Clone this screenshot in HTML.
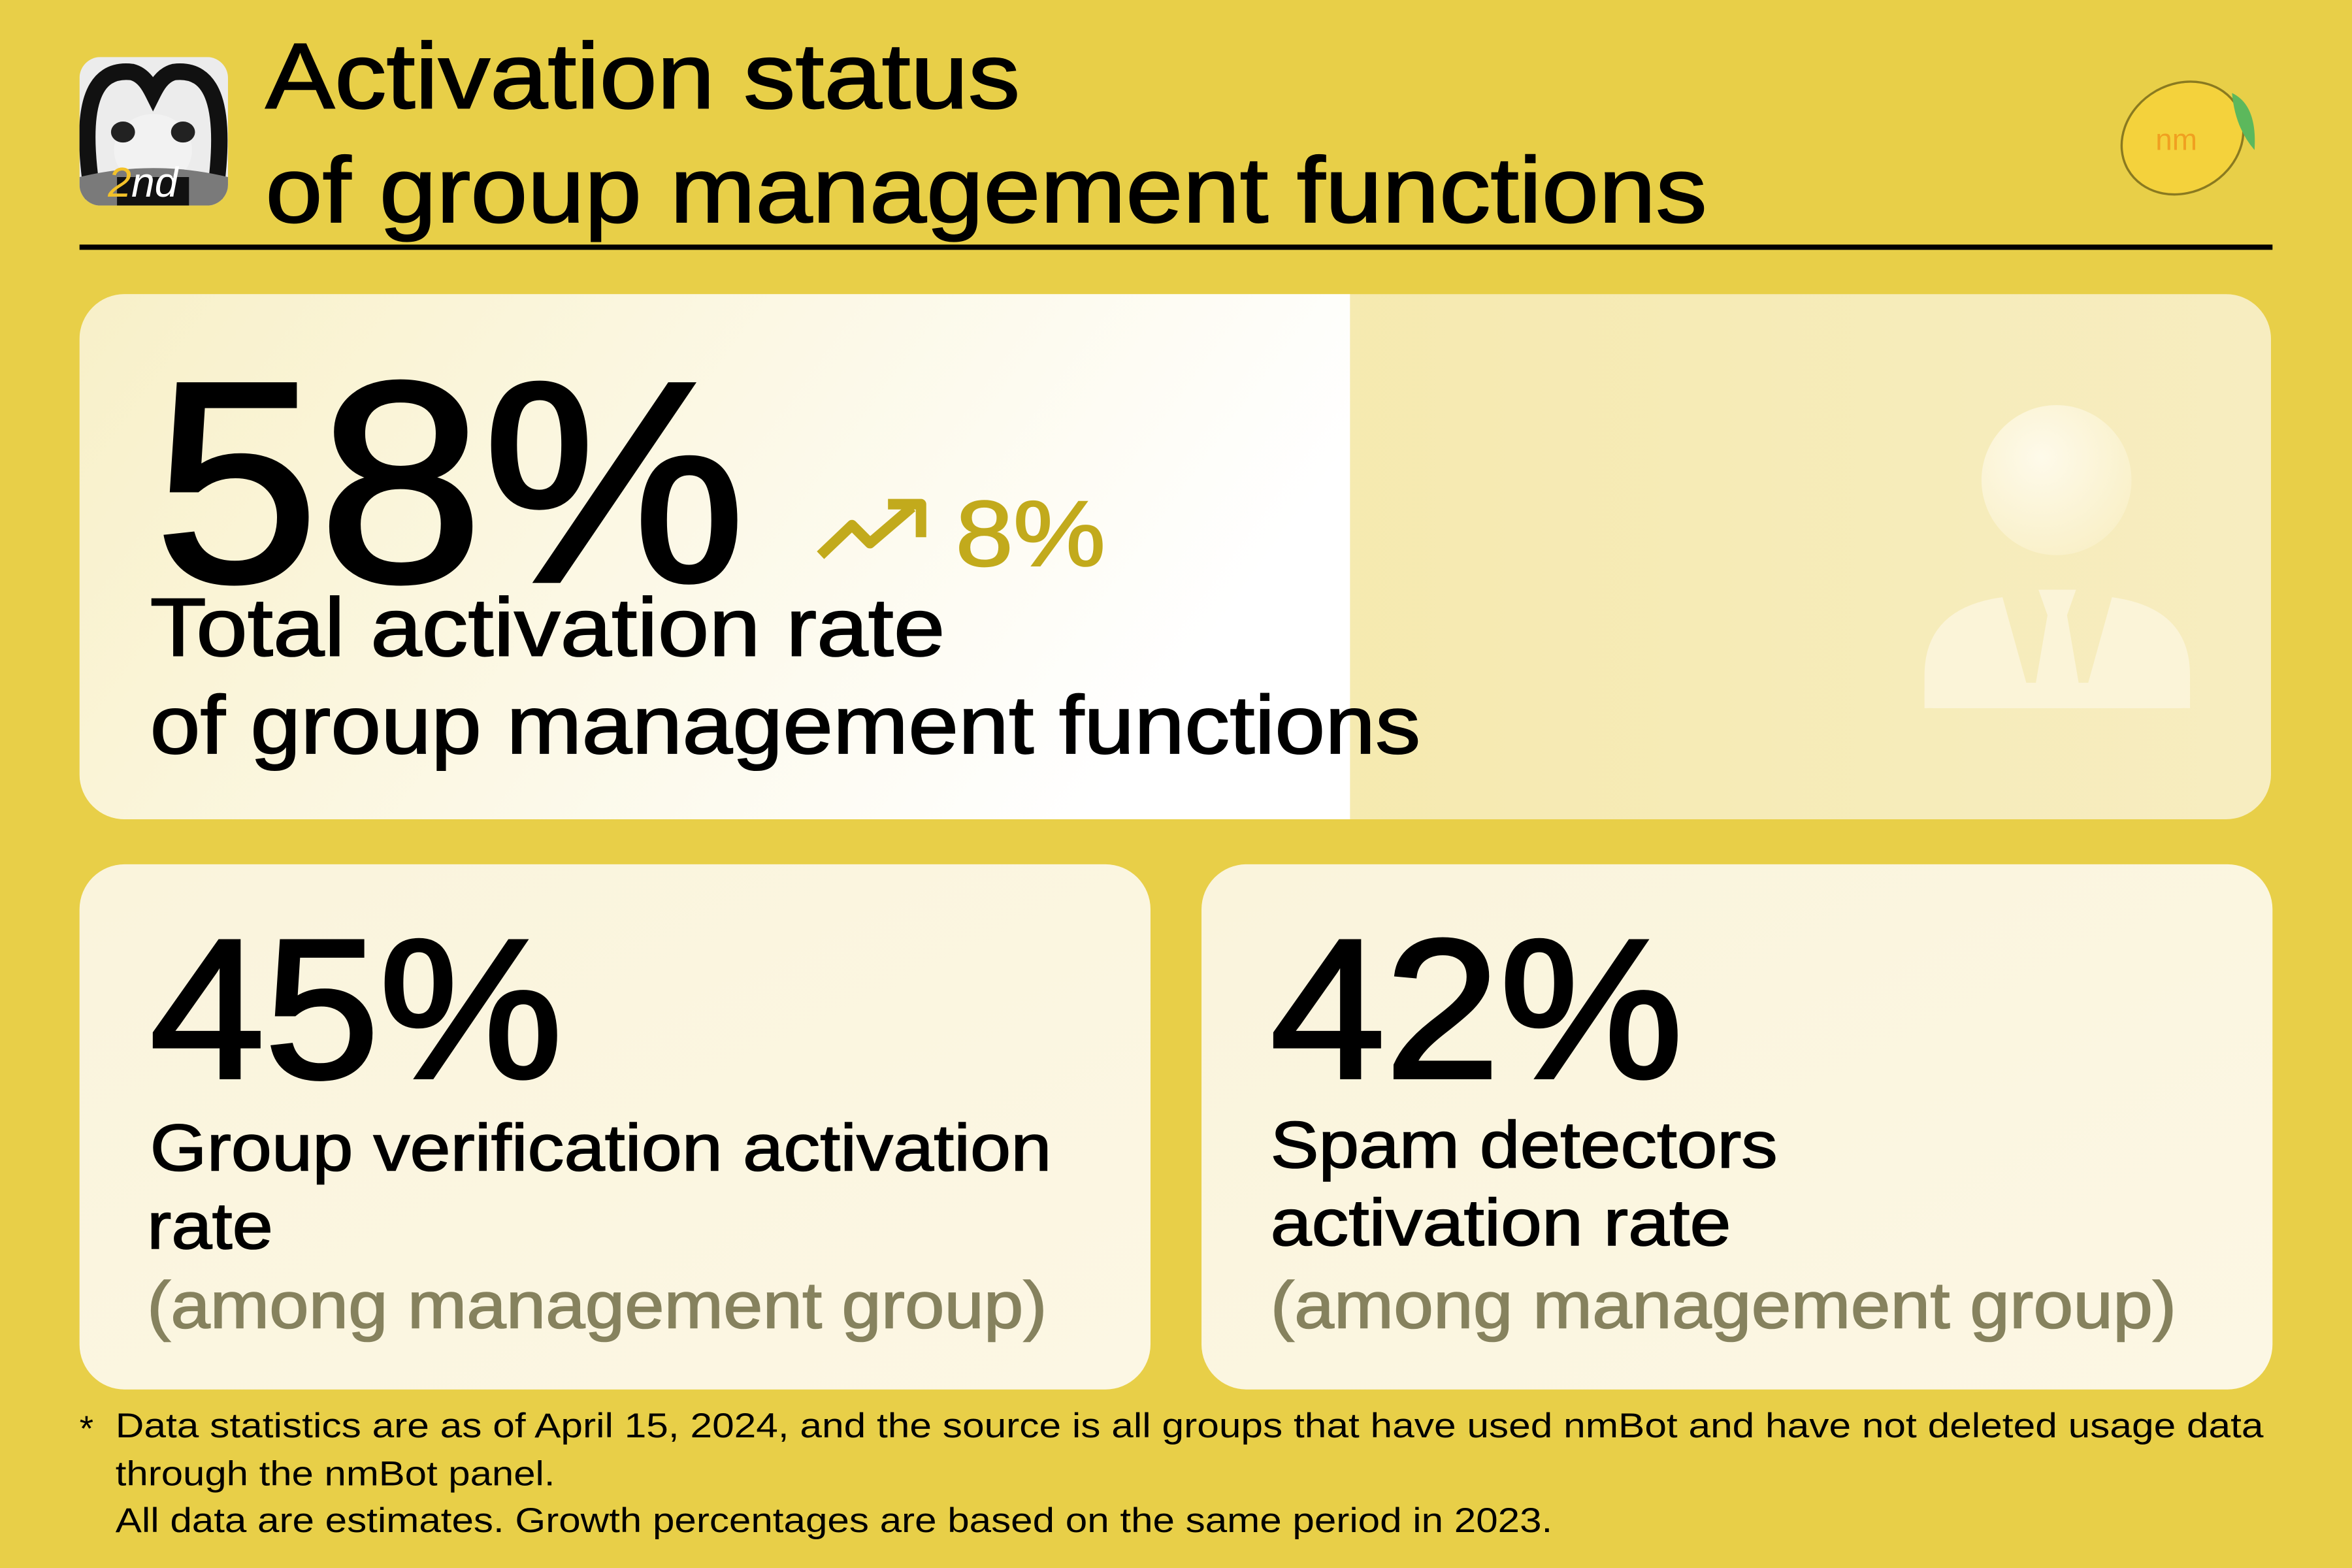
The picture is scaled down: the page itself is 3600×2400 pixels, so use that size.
<!DOCTYPE html>
<html><head><meta charset="utf-8"><style>
html,body{margin:0;padding:0;background:#E8CF48;}
svg{display:block;}
text{font-family:"Liberation Sans","DejaVu Sans",sans-serif;}
</style></head><body>
<svg width="3600" height="2400" viewBox="0 0 1568 1045" preserveAspectRatio="none" xmlns="http://www.w3.org/2000/svg">
<defs>
<linearGradient id="gl" x1="0" y1="0" x2="1" y2="0.3">
<stop offset="0" stop-color="#F8F0C8"/><stop offset="1" stop-color="#FFFFFF"/></linearGradient>
<linearGradient id="gr" x1="0" y1="0" x2="1" y2="0">
<stop offset="0" stop-color="#F3E59A"/><stop offset="1" stop-color="#F7EDC0"/></linearGradient>
<linearGradient id="gc" x1="0" y1="0" x2="1" y2="1">
<stop offset="0" stop-color="#FAF4DC"/><stop offset="1" stop-color="#FCF7E4"/></linearGradient>
<radialGradient id="hd" cx="0.4" cy="0.35" r="0.7">
<stop offset="0" stop-color="#FEFAEA"/><stop offset="1" stop-color="#F9F0C8"/></radialGradient>
<clipPath id="cp"><rect x="53" y="196" width="1461" height="350" rx="30"/></clipPath>
<clipPath id="ic"><rect x="53" y="38" width="99" height="99" rx="14"/></clipPath>
</defs>
<rect width="1568" height="1045" fill="#E8CF48"/>
<g clip-path="url(#ic)">
<rect x="53" y="38" width="99" height="99" fill="#ececec"/>
<path d="M62 132 C52 70 62 45 88 48 C96 50 100 58 102 62 C104 58 108 50 116 48 C142 45 152 70 143 132" fill="none" stroke="#111" stroke-width="11"/>
<ellipse cx="102" cy="100" rx="26" ry="24" fill="#f2f2f2"/>
<ellipse cx="82" cy="88" rx="8" ry="7" fill="#222"/><ellipse cx="122" cy="88" rx="8" ry="7" fill="#222"/>
<path d="M53 118 Q102 106 152 118 L152 137 L53 137Z" fill="#7a7a7a"/>
<rect x="78" y="118" width="48" height="19" fill="#111"/>
<text x="72" y="131" font-family="Liberation Serif,serif" font-style="italic" font-size="28" fill="#F3C22A">2<tspan fill="#fff">nd</tspan></text>
</g>
<g stroke="#000" stroke-width="0.9">
<text x="177" y="72" font-size="62" fill="#000" textLength="503" lengthAdjust="spacingAndGlyphs">Activation status</text>
<text x="177" y="148" font-size="62" fill="#000" textLength="961" lengthAdjust="spacingAndGlyphs">of group management functions</text>
</g>
<rect x="53" y="163" width="1462" height="3.5" fill="#000"/>
<g>
<ellipse cx="1455" cy="92" rx="42" ry="36" transform="rotate(-30 1455 92)" fill="#F4D23C" stroke="#8a7a20" stroke-width="1.5"/>
<path d="M1488 62 Q1505 70 1503 100 Q1490 85 1488 62Z" fill="#5CB85C"/>
<text x="1437" y="100" font-size="20" fill="#F0A020">nm</text>
</g>
<g clip-path="url(#cp)">
<rect x="53" y="196" width="1461" height="350" fill="url(#gr)"/>
<rect x="53" y="196" width="847" height="350" fill="url(#gl)"/>
</g>
<circle cx="1371" cy="320" r="50" fill="url(#hd)"/>
<g fill="#FBF4D8">
<path d="M1283 472 L1283 450 Q1283 405 1335 398 L1355 470 Z"/>
<path d="M1460 472 L1460 450 Q1460 405 1408 398 L1388 470 Z"/>
<path d="M1359 393 L1384 393 L1378 410 L1388 468 L1355 468 L1365 410Z"/>
<rect x="1283" y="455" width="177" height="17" rx="6"/>
</g>
<text x="103" y="387" font-size="190" fill="#000" stroke="#000" stroke-width="3" textLength="394" lengthAdjust="spacingAndGlyphs">58%</text>
<path d="M547 370 L568 350 L580 362 L608 338" fill="none" stroke="#C2AA1C" stroke-width="7" stroke-linejoin="round"/>
<path d="M592 336 L614 336 L614 358" fill="none" stroke="#C2AA1C" stroke-width="7" stroke-linejoin="round"/>
<text x="637" y="377" font-size="62" fill="#C2AA1C" stroke="#C2AA1C" stroke-width="1" textLength="100" lengthAdjust="spacingAndGlyphs">8%</text>
<g stroke="#000" stroke-width="0.8">
<text x="100" y="437" font-size="55" fill="#000" textLength="530" lengthAdjust="spacingAndGlyphs">Total activation rate</text>
<text x="100" y="502" font-size="55" fill="#000" textLength="847" lengthAdjust="spacingAndGlyphs">of group management functions</text>
</g>
<rect x="53" y="576" width="714" height="350" rx="30" fill="url(#gc)"/>
<rect x="801" y="576" width="714" height="350" rx="30" fill="url(#gc)"/>
<g stroke="#000" stroke-width="2.5">
<text x="100" y="718" font-size="132" fill="#000" textLength="275" lengthAdjust="spacingAndGlyphs">45%</text>
<text x="847" y="718" font-size="132" fill="#000" textLength="275" lengthAdjust="spacingAndGlyphs">42%</text>
</g>
<g stroke="#000" stroke-width="0.7">
<text x="100" y="780" font-size="44" fill="#000" textLength="601" lengthAdjust="spacingAndGlyphs">Group verification activation</text>
<text x="98" y="832" font-size="44" fill="#000" textLength="84" lengthAdjust="spacingAndGlyphs">rate</text>
<text x="847" y="778" font-size="44" fill="#000" textLength="338" lengthAdjust="spacingAndGlyphs">Spam detectors</text>
<text x="847" y="830" font-size="44" fill="#000" textLength="307" lengthAdjust="spacingAndGlyphs">activation rate</text>
</g>
<g stroke="#86825E" stroke-width="0.7">
<text x="98" y="885" font-size="44" fill="#86825E" textLength="600" lengthAdjust="spacingAndGlyphs">(among management group)</text>
<text x="847" y="885" font-size="44" fill="#86825E" textLength="604" lengthAdjust="spacingAndGlyphs">(among management group)</text>
</g>
<text x="53" y="960" font-size="24" fill="#000">*</text>
<text x="77" y="958" font-size="23" fill="#000" textLength="1432" lengthAdjust="spacingAndGlyphs">Data statistics are as of April 15, 2024, and the source is all groups that have used nmBot and have not deleted usage data</text>
<text x="77" y="990" font-size="23" fill="#000" textLength="293" lengthAdjust="spacingAndGlyphs">through the nmBot panel.</text>
<text x="77" y="1021" font-size="23" fill="#000" textLength="958" lengthAdjust="spacingAndGlyphs">All data are estimates. Growth percentages are based on the same period in 2023.</text>
</svg>
</body></html>
